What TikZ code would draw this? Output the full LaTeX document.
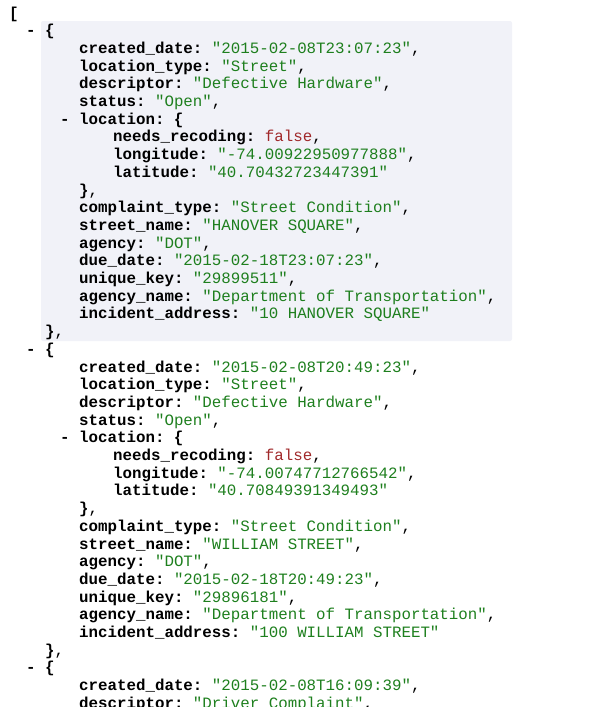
\documentclass[tikz,border=0pt]{standalone}
\usepackage{fontspec}
\setmonofont{Liberation Mono}
\definecolor{strc}{HTML}{1E7F1E}
\definecolor{boolc}{HTML}{A0282A}
\definecolor{hl}{HTML}{F1F2F8}
\newcommand{\K}[1]{\textbf{#1}}
\newcommand{\Sv}[1]{\textcolor{strc}{"#1"}}
\newcommand{\Bv}[1]{\textcolor{boolc}{#1}}
\tikzset{ln/.style={anchor=base west,inner sep=0pt,font=\ttfamily\fontsize{15.8}{17}\selectfont}}
\newcommand{\Ln}[4]{\node[ln] (#1) at (#2,{13+17.7*#3+5}) {#4};}
\begin{document}
\begin{tikzpicture}[x=1pt,y=-1pt]
\useasboundingbox (0,0) rectangle (600,707);
\clip (0,0) rectangle (600,707);
\fill[hl,rounded corners=2pt] (41,21) rectangle (512,341);
\Ln{l0}{9}{0}{\K{[}}
\Ln{l1}{26}{1}{\K{- \{}}
\Ln{l2}{79}{2}{\K{created\_date:} \Sv{2015-02-08T23:07:23},}
\Ln{l3}{79}{3}{\K{location\_type:} \Sv{Street},}
\Ln{l4}{79}{4}{\K{descriptor:} \Sv{Defective Hardware},}
\Ln{l5}{79}{5}{\K{status:} \Sv{Open},}
\Ln{l6}{60}{6}{\K{- location: \{}}
\Ln{l7}{113}{7}{\K{needs\_recoding:} \Bv{false},}
\Ln{l8}{113}{8}{\K{longitude:} \Sv{-74.00922950977888},}
\Ln{l9}{113}{9}{\K{latitude:} \Sv{40.70432723447391}}
\Ln{l10}{79}{10}{\K{\}},}
\Ln{l11}{79}{11}{\K{complaint\_type:} \Sv{Street Condition},}
\Ln{l12}{79}{12}{\K{street\_name:} \Sv{HANOVER SQUARE},}
\Ln{l13}{79}{13}{\K{agency:} \Sv{DOT},}
\Ln{l14}{79}{14}{\K{due\_date:} \Sv{2015-02-18T23:07:23},}
\Ln{l15}{79}{15}{\K{unique\_key:} \Sv{29899511},}
\Ln{l16}{79}{16}{\K{agency\_name:} \Sv{Department of Transportation},}
\Ln{l17}{79}{17}{\K{incident\_address:} \Sv{10 HANOVER SQUARE}}
\Ln{l18}{45}{18}{\K{\}},}
\Ln{l19}{26}{19}{\K{- \{}}
\Ln{l20}{79}{20}{\K{created\_date:} \Sv{2015-02-08T20:49:23},}
\Ln{l21}{79}{21}{\K{location\_type:} \Sv{Street},}
\Ln{l22}{79}{22}{\K{descriptor:} \Sv{Defective Hardware},}
\Ln{l23}{79}{23}{\K{status:} \Sv{Open},}
\Ln{l24}{60}{24}{\K{- location: \{}}
\Ln{l25}{113}{25}{\K{needs\_recoding:} \Bv{false},}
\Ln{l26}{113}{26}{\K{longitude:} \Sv{-74.00747712766542},}
\Ln{l27}{113}{27}{\K{latitude:} \Sv{40.70849391349493}}
\Ln{l28}{79}{28}{\K{\}},}
\Ln{l29}{79}{29}{\K{complaint\_type:} \Sv{Street Condition},}
\Ln{l30}{79}{30}{\K{street\_name:} \Sv{WILLIAM STREET},}
\Ln{l31}{79}{31}{\K{agency:} \Sv{DOT},}
\Ln{l32}{79}{32}{\K{due\_date:} \Sv{2015-02-18T20:49:23},}
\Ln{l33}{79}{33}{\K{unique\_key:} \Sv{29896181},}
\Ln{l34}{79}{34}{\K{agency\_name:} \Sv{Department of Transportation},}
\Ln{l35}{79}{35}{\K{incident\_address:} \Sv{100 WILLIAM STREET}}
\Ln{l36}{45}{36}{\K{\}},}
\Ln{l37}{26}{37}{\K{- \{}}
\Ln{l38}{79}{38}{\K{created\_date:} \Sv{2015-02-08T16:09:39},}
\Ln{l39}{79}{39}{\K{descriptor:} \Sv{Driver Complaint},}
\end{tikzpicture}
\end{document}
